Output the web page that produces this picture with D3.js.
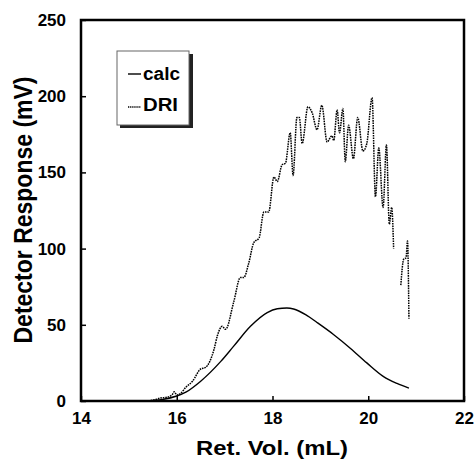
<!DOCTYPE html>
<html lang="en">
<head>
<meta charset="UTF-8">
<title>Detector Response</title>
<script src="https://d3js.org/d3.v7.min.js"></script>
<style>
    body, html { margin: 0; padding: 0; background: #fff; }
    svg text { font-family: "Liberation Sans", Arial, sans-serif; font-weight: bold; fill: #000; }
</style>
</head>
<body>
<div id="chart"></div>
<script>
    // DRI trace (null marks the break in the trace)
    const driX = [15.35, 15.5, 15.67, 15.8, 15.9, 15.95, 16.0, 16.08, 16.19, 16.33, 16.5, 16.6, 16.78, 16.85, 16.95, 17.02,
        17.19, 17.33, 17.4, 17.5, 17.61, 17.72, 17.82, 17.92, 18.03, 18.1, 18.2, 18.27, 18.37, 18.43, 18.51, 18.56,
        18.62, 18.74, 18.83, 18.93, 19.03, 19.14, 19.24, 19.28, 19.35, 19.4, 19.47, 19.52, 19.59, 19.69, 19.78, 19.89,
        19.97, 20.08, 20.15, 20.22, 20.31, 20.38, 20.44, 20.49, 20.53, 20.6, 20.68, 20.74, 20.79, 20.82, 20.85];
    const driY = [0, 0.5, 2, 2.5, 4, 6, 4, 5, 9, 13, 21, 22, 34, 43, 49, 47,
        65, 81, 81, 90, 104, 107, 124, 124, 147, 144, 155, 156, 176, 148, 186, 186,
        169, 193, 189, 178, 194, 170, 174, 171, 191, 176, 192, 157, 181, 159, 186, 164,
        169, 199, 134, 166, 127, 168, 116, 127, 100, null, 76, 93, 94, 105, 54];

    // calculated curve
    const calcX = [15.35, 15.7, 16.0, 16.2, 16.5, 16.92, 17.19, 17.54, 17.89, 18.1, 18.3, 18.44, 18.7, 18.93, 19.28, 19.63, 19.97, 20.32, 20.6, 20.85];
    const calcY = [0, 1, 3.3, 6, 13, 26, 36, 49, 58, 60.5, 61, 60.4, 56.5, 51.5, 43.5, 34.5, 25, 16, 11.5, 8.4];

    const xTicks = [14, 16, 18, 20, 22];
    const yTicks = [0, 50, 100, 150, 200, 250];
    const legendItems = ["calc", "DRI"];

    const W = 476, H = 465;
    const m = { left: 81, right: 12, top: 20, bottom: 64 };

    const x = d3.scaleLinear().domain([14, 22]).range([m.left, W - m.right]);
    const y = d3.scaleLinear().domain([0, 250]).range([H - m.bottom, m.top]);

    const svg = d3.select("#chart").append("svg")
        .attr("width", W).attr("height", H);

    // axes with inward ticks
    svg.append("g")
        .attr("transform", `translate(0,${y(0)})`)
        .call(d3.axisBottom(x).tickValues(xTicks).tickSizeInner(-5).tickSizeOuter(0).tickPadding(16))
        .call(g => g.select(".domain").remove())
        .call(g => g.selectAll("line").attr("stroke-width", 1.5))
        .call(g => g.selectAll("text").attr("font-size", 17).attr("font-family", null).attr("dy", "0.4em"));

    svg.append("g")
        .attr("transform", `translate(${x(14)},0)`)
        .call(d3.axisLeft(y).tickValues(yTicks).tickSizeInner(-5).tickSizeOuter(0).tickPadding(15))
        .call(g => g.select(".domain").remove())
        .call(g => g.selectAll("line").attr("stroke-width", 1.5))
        .call(g => g.selectAll("text").attr("font-size", 17).attr("font-family", null));

    // frame
    svg.append("rect")
        .attr("x", x(14)).attr("y", y(250))
        .attr("width", x(22) - x(14)).attr("height", y(0) - y(250))
        .attr("fill", "none").attr("stroke", "#000").attr("stroke-width", 2.5);

    // curves
    const calcLine = d3.line()
        .x((d, i) => x(calcX[i]))
        .y(d => y(d))
        .curve(d3.curveMonotoneX);
    svg.append("path")
        .attr("d", calcLine(calcY))
        .attr("fill", "none").attr("stroke", "#000").attr("stroke-width", 1.4);

    const driLine = d3.line()
        .defined(d => d != null)
        .x((d, i) => x(driX[i]))
        .y(d => y(d))
        .curve(d3.curveMonotoneX);
    svg.append("path")
        .attr("d", driLine(driY))
        .attr("fill", "none").attr("stroke", "#000").attr("stroke-width", 1.5)
        .attr("stroke-dasharray", "1.6,0.9");

    // legend
    const lg = svg.append("g");
    lg.append("rect").attr("x", 120).attr("y", 54).attr("width", 73).attr("height", 74).attr("fill", "#222");
    lg.append("rect").attr("x", 117).attr("y", 51).attr("width", 72).attr("height", 74)
        .attr("fill", "#fff").attr("stroke", "#666").attr("stroke-width", 1);

    legendItems.forEach((name, i) => {
        const ly = 74 + i * 33;
        lg.append("line").attr("x1", 128).attr("x2", 141).attr("y1", ly).attr("y2", ly)
            .attr("stroke", "#000").attr("stroke-width", 1.4)
            .attr("stroke-dasharray", i === 1 ? "1.3,0.8" : null);
        lg.append("text").attr("x", 143).attr("y", ly + (i === 0 ? 6 : 4))
            .attr("font-size", 18).attr("textLength", i === 0 ? 37 : 35).attr("lengthAdjust", "spacingAndGlyphs")
            .text(name);
    });

    // axis titles
    svg.append("text")
        .attr("x", 272).attr("y", 455)
        .attr("text-anchor", "middle").attr("font-size", 20)
        .attr("textLength", 152).attr("lengthAdjust", "spacingAndGlyphs")
        .text("Ret. Vol. (mL)");

    svg.append("text")
        .attr("transform", "translate(32,210) scale(1.2,1) rotate(-90)")
        .attr("text-anchor", "middle").attr("font-size", 22)
        .attr("textLength", 267).attr("lengthAdjust", "spacingAndGlyphs")
        .text("Detector Response (mV)");
</script>
</body>
</html>
